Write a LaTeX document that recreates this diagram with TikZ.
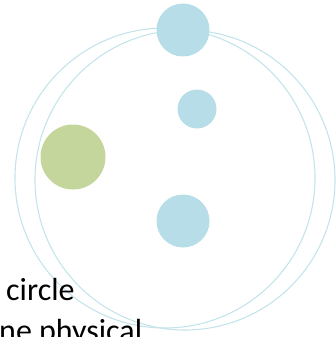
\documentclass[tikz,border=0pt]{standalone}
\usepackage{fontspec}
\setmainfont{Carlito}
\definecolor{aqua}{RGB}{183,222,232}
\definecolor{aqualine}{RGB}{196,228,235}
\definecolor{olive}{RGB}{196,214,155}
\tikzset{
  ring/.style={draw=aqualine, line width=1.1pt},
  bluedot/.style={circle, fill=aqua, draw=none, inner sep=0pt},
  greendot/.style={circle, fill=olive, draw=none, inner sep=0pt},
  caption/.style={inner sep=0pt, anchor=base west, font=\fontsize{32}{41}\selectfont}
}
\begin{document}
\begin{tikzpicture}[x=1pt,y=-1pt]
\useasboundingbox (0,0) rectangle (336,337);
\clip (0,0) rectangle (336,337);
\node[ring, circle, minimum size=300pt, inner sep=0pt] (ringA) at (165,178) {};
\node[ring, circle, minimum size=300pt, inner sep=0pt] (ringB) at (185,180) {};
\node[bluedot, minimum size=53pt] (top) at (183,30) {};
\node[bluedot, minimum size=39pt] (mid) at (197,109) {};
\node[greendot, minimum size=65pt] (green) at (73,157) {};
\node[bluedot, minimum size=53pt] (bottom) at (183,221) {};
\node[caption] (line1) at (6,300) {circle};
\node[caption] (line2) at (-1,341) {ne physical};
\end{tikzpicture}
\end{document}
